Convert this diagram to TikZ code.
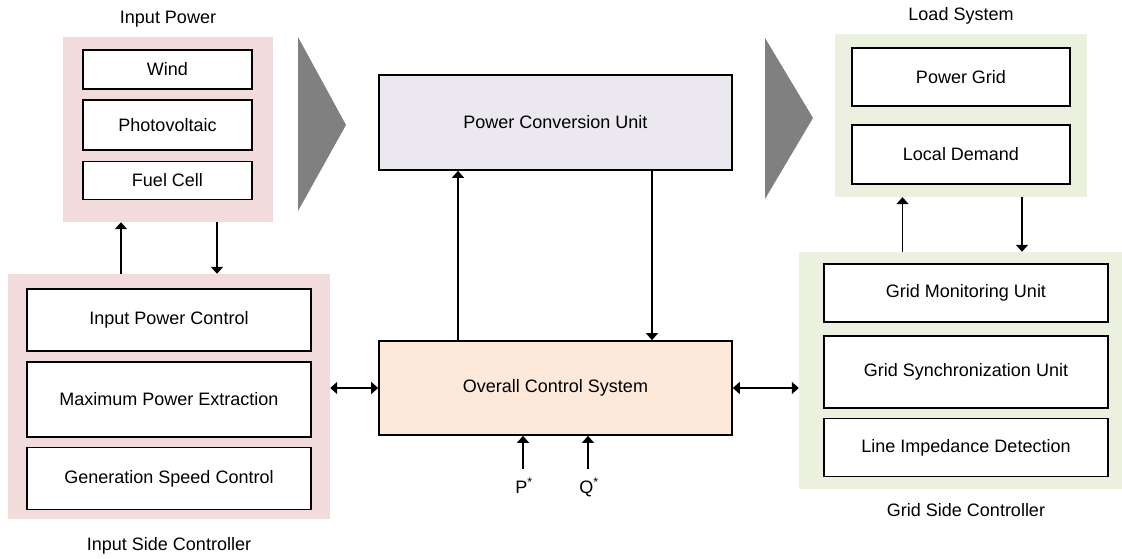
\documentclass[tikz,border=0pt]{standalone}
\usepackage{fontspec}
\setmainfont{Liberation Sans}
\usepackage{xcolor}
\usepackage{tikz}
\usetikzlibrary{positioning,%
  arrows.meta,%
  calc
}

\definecolor{inpink}{HTML}{F2DCDB}
\definecolor{gridgreen}{HTML}{EBF1DE}
\definecolor{convlilac}{HTML}{EBE8F0}
\definecolor{ctrlpeach}{HTML}{FDE9D9}
\definecolor{flowgray}{HTML}{808080}

\begin{document}
\begin{tikzpicture}
                    [
                        x=1pt, y=-1pt,
                        every node/.style={font=\fontsize{18}{22}\selectfont, inner sep=0pt},
                        group/.style={fill=#1, draw=none},
                        box/.style={draw, line width=1.7pt, fill=white},
                        unit/.style={draw, line width=1.7pt, fill=#1},
                        arr/.style={line width=1.7pt, -{Triangle[width=12pt,length=7pt]}},
                        dbl/.style={line width=1.7pt, {Triangle[width=12pt,length=7pt]}-{Triangle[width=12pt,length=7pt]}}
                    ]

                    % Rahmen
                    \useasboundingbox (0,0) rectangle (1122,559);

                    % Eingang
                    \node[group=inpink, minimum width=210pt, minimum height=185pt] (inp) at (168,129.5) {};
                    \node (inplbl) at (168,19) {Input Power};
                    \node[box, minimum width=169pt, minimum height=39pt] (wind) at (167.5,69.5) {Wind};
                    \node[box, minimum width=169pt, minimum height=50pt, below=9pt of wind] (pv) {Photovoltaic};
                    \node[box, minimum width=169pt, minimum height=38pt, below=10pt of pv] (fuel) {Fuel Cell};

                    % Eingangsregler
                    \node[group=inpink, minimum width=322pt, minimum height=245pt] (isc) at (169,396.5) {};
                    \node (isclbl) at (169,546) {Input Side Controller};
                    \node[box, minimum width=284pt, minimum height=62pt] (ipc) at (169,320) {Input Power Control};
                    \node[box, minimum width=284pt, minimum height=75pt, below=9pt of ipc] (mpe) {Maximum Power Extraction};
                    \node[box, minimum width=284pt, minimum height=62pt, below=9pt of mpe] (gsp) {Generation Speed Control};

                    % Mitte
                    \node[unit=convlilac, minimum width=353pt, minimum height=95pt] (pcu) at (555.5,122.5) {Power Conversion Unit};
                    \node[unit=ctrlpeach, minimum width=353pt, minimum height=94pt] (ocs) at (555.5,388) {Overall Control System};

                    % Last
                    \node[group=gridgreen, minimum width=252pt, minimum height=163pt] (load) at (961,115.5) {};
                    \node (loadlbl) at (961,15.5) {Load System};
                    \node[box, minimum width=218pt, minimum height=58pt] (pgrid) at (961,77) {Power Grid};
                    \node[box, minimum width=218pt, minimum height=59pt, below=17pt of pgrid] (demand) {Local Demand};

                    % Netzregler
                    \node[group=gridgreen, minimum width=323pt, minimum height=237pt] (gsc) at (960.5,370.5) {};
                    \node (gsclbl) at (966,510) {Grid Side Controller};
                    \node[box, minimum width=284pt, minimum height=58pt] (gmu) at (966,293) {Grid Monitoring Unit};
                    \node[box, minimum width=284pt, minimum height=72pt, below=12pt of gmu] (gsu) {Grid Synchronization Unit};
                    \node[box, minimum width=284pt, minimum height=58pt, below=9pt of gsu] (lid) {Line Impedance Detection};

                    % Sollwerte
                    \node[anchor=north] (pref) at (524,478) {P\textsuperscript{*}};
                    \node[anchor=north] (qref) at (589,478) {Q\textsuperscript{*}};

                    % Leistungsfluss
                    \fill[flowgray] (298,37) -- (346,125) -- (298,211) -- cycle;
                    \fill[flowgray] (765,38) -- (813,118) -- (765,199) -- cycle;

                    % Verbindungen
                    \draw[arr] ([xshift=-48pt]isc.north) -- ([xshift=-48pt]isc.north |- inp.south);
                    \draw[arr] ([xshift=49pt]inp.south) -- ([xshift=49pt]inp.south |- isc.north);
                    \draw[arr] ([xshift=-97.5pt]ocs.north) -- ([xshift=-97.5pt]pcu.south);
                    \draw[arr] ([xshift=96.5pt]pcu.south) -- ([xshift=96.5pt]ocs.north);
                    \draw[dbl] (isc.east |- ocs.west) -- (ocs.west);
                    \draw[dbl] (ocs.east) -- (ocs.east -| gsc.west);
                    \draw[arr] ([xshift=-58pt]gsc.north) -- ([xshift=-58pt]gsc.north |- load.south);
                    \draw[arr] ([xshift=61pt]load.south) -- ([xshift=61pt]load.south |- gsc.north);
                    \draw[arr] ([yshift=9pt,xshift=-1pt]pref.north) -- ([xshift=-1pt]pref.north |- ocs.south);
                    \draw[arr] ([yshift=9pt,xshift=-1pt]qref.north) -- ([xshift=-1pt]qref.north |- ocs.south);
                \end{tikzpicture}
\end{document}
